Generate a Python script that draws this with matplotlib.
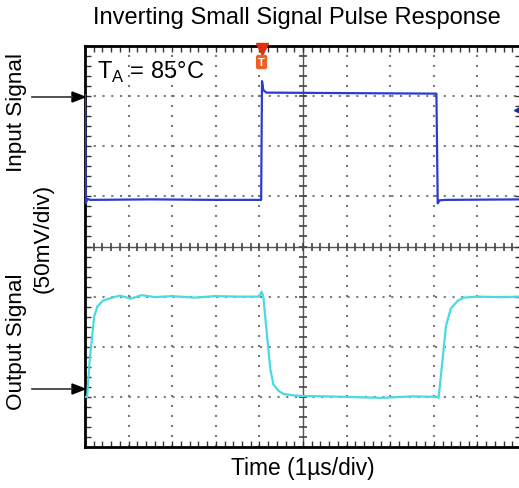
import numpy as np
import matplotlib.pyplot as plt
from matplotlib.ticker import MultipleLocator

plt.rcParams['font.family'] = ['Liberation Sans', 'DejaVu Sans']

# scope screen in divisions: 10 across (1us/div), 8 high (50mV/div)
in_t = [0.0, 0.02, 0.05, 0.12, 1.5, 3.0, 4.04, 4.06, 4.09, 4.16, 6.0, 8.06, 8.09, 8.13, 8.25, 10.0]
in_v = [7.02, 4.86, 4.95, 4.93, 4.94, 4.93, 4.93, 7.3, 7.12, 7.07, 7.06, 7.05, 4.86, 4.92, 4.93, 4.94]

out_t = [0.0, 0.05, 0.11, 0.21, 0.28, 0.41, 0.62, 0.8, 1.05, 1.3, 1.6, 2.0, 2.5, 3.0, 3.5, 4.0,
         4.05, 4.09, 4.16, 4.25, 4.32, 4.44, 4.55, 4.78, 4.94, 5.5, 6.0, 6.8, 7.5, 8.08,
         8.11, 8.21, 8.28, 8.39, 8.55, 8.69, 9.0, 9.5, 10.0]
out_v = [1.0, 1.0, 1.76, 2.6, 2.8, 2.92, 2.98, 3.02, 2.96, 3.03, 2.99, 3.01, 2.98, 3.01, 3.0, 3.0,
         3.1, 3.0, 2.36, 1.56, 1.25, 1.12, 1.06, 1.03, 1.02, 1.01, 1.0, 0.98, 1.01, 1.0,
         0.98, 1.82, 2.42, 2.76, 2.92, 2.98, 3.0, 2.99, 3.0]

fig = plt.figure(figsize=(5.19, 4.89), dpi=100)
W, H = 519.0, 489.0


def fx(px):
    return px / W


def fy(py):
    return 1 - py / H


ax = fig.add_axes([fx(85), fy(448), (521 - 85) / W, (448 - 47) / H])
ax.set_xlim(0, 10)
ax.set_ylim(0, 8)

# grille en pointilles (un point tous les 0.2 div)
for k in range(1, 10):
    if k != 5:
        ax.axvline(k, color='#7a7a7a', lw=1.5, ls=(0, (1, 3.8)), zorder=1)
for k in range(1, 8):
    if k != 4:
        ax.axhline(k, color='#7a7a7a', lw=1.5, ls=(0, (1, 3.2)), zorder=1)

# axes centraux avec graduations
ax.axvline(5, color='#555555', lw=1.0, zorder=1)
ax.axhline(4, color='#555555', lw=1.0, zorder=1)
ax.plot(np.arange(0, 10.01, 0.2), [4] * 51, ls='none', marker='|', ms=6, color='#444444', mew=1.2, zorder=1)
ax.plot([5] * 41, np.arange(0, 8.01, 0.2), ls='none', marker='_', ms=6, color='#444444', mew=1.2, zorder=1)

ax.xaxis.set_major_locator(MultipleLocator(1))
ax.xaxis.set_minor_locator(MultipleLocator(0.2))
ax.yaxis.set_major_locator(MultipleLocator(1))
ax.yaxis.set_minor_locator(MultipleLocator(0.2))
ax.tick_params(which='both', direction='in', top=True, right=True, labelbottom=False, labelleft=False,
               length=4, width=1.0, color='#333333')
for s in ax.spines.values():
    s.set_linewidth(2)

ax.plot(in_t, in_v, color='#2a3ccf', lw=1.6, zorder=3)
ax.plot(out_t, out_v, color='#48dbe3', lw=1.6, zorder=3)

# reperes de l'oscillo
ax.plot([4.05], [7.95], marker='v', ms=8, color='#e03010', clip_on=False, zorder=4)
ax.text(4.05, 7.68, 'T', ha='center', va='center', fontsize=8, color='white', fontweight='bold',
        bbox=dict(boxstyle='round,pad=0.2', fc='#f06020', ec='none'), zorder=5)
ax.plot([9.98], [6.72], marker='<', ms=9, color='#1a2a9a', zorder=4)

ax.text(0.28, 7.5, r'T$_\mathregular{A}$ = 85°C', fontsize=17, va='center', ha='left')

fig.text(fx(297), fy(18), 'Inverting Small Signal Pulse Response', fontsize=17, ha='center', va='center')
fig.text(fx(303), fy(469), 'Time (1µs/div)', fontsize=16.4, ha='center', va='center')
fig.text(fx(17), fy(112), 'Input Signal', fontsize=16.2, rotation=90, ha='center', va='center')
fig.text(fx(43), fy(238), '(50mV/div)', fontsize=16.2, rotation=90, ha='center', va='center')
fig.text(fx(17), fy(342), 'Output Signal', fontsize=16.2, rotation=90, ha='center', va='center')

for yy in (98, 390):
    fig.add_artist(plt.Line2D([fx(32), fx(72)], [fy(yy), fy(yy)], color='#333333', lw=1.2))
    fig.patches.append(plt.Polygon([[fx(85), fy(yy)], [fx(72), fy(yy - 5)], [fx(72), fy(yy + 5)]],
                                   closed=True, color='black', transform=fig.transFigure, figure=fig))

fig.savefig('out.png', dpi=100)
